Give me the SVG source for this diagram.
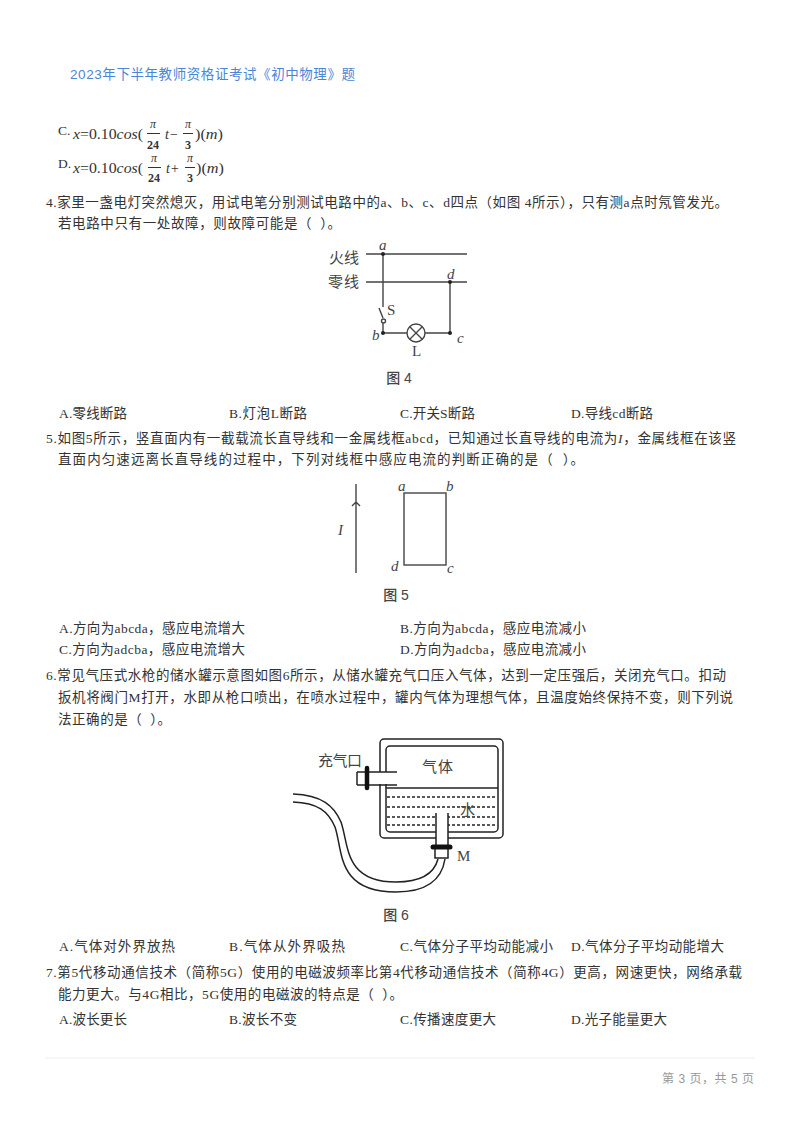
<svg xmlns="http://www.w3.org/2000/svg" width="800" height="1132" viewBox="0 0 800 1132">
<style>
text{font-family:"Liberation Serif","Noto Sans CJK SC",serif;font-size:13.5px;fill:#333}
.s{font-family:"Liberation Sans","Noto Sans CJK SC",sans-serif}
.i{font-style:italic}
.m{font-size:14px}
.f{font-size:12px;text-anchor:middle}
.b{font-weight:700}
.cap{font-family:"Liberation Sans","Noto Sans CJK SC",sans-serif;font-size:14px;font-weight:500;fill:#444;text-anchor:middle}
.lbl{font-size:15px;fill:#444}
.w{fill:none;stroke:#444;stroke-width:1.4}
.t{fill:none;stroke:#222;stroke-width:1.5}
.d{fill:none;stroke:#222;stroke-width:1.6;stroke-dasharray:3 2}
.dot{fill:#222}
</style>
<rect width="800" height="1132" fill="#fff"/>
<text id="title" class="s" x="70" y="79" textLength="285" style="fill:#4a86d8;font-size:13.5px">2023年下半年教师资格证考试《初中物理》题</text>

<g id="option-c">
<text x="58" y="135">C.</text>
<text class="m" x="73" y="139" textLength="70" lengthAdjust="spacingAndGlyphs"><tspan class="i">x</tspan>=0.10<tspan class="i">cos</tspan>(</text>
<text class="f i" x="153" y="128">π</text><path d="M147 133.500H160" stroke="#333"/><text class="f b" x="153" y="149">24</text>
<text class="m i" x="165" y="139">t−</text>
<text class="f i" x="188" y="128">π</text><path d="M183 133.500H193" stroke="#333"/><text class="f b" x="188" y="149">3</text>
<text class="m" x="195" y="139" textLength="28" lengthAdjust="spacingAndGlyphs">)(<tspan class="i">m</tspan>)</text>
</g>
<g id="option-d">
<text x="58" y="168">D.</text>
<text class="m" x="73" y="173" textLength="70" lengthAdjust="spacingAndGlyphs"><tspan class="i">x</tspan>=0.10<tspan class="i">cos</tspan>(</text>
<text class="f i" x="154" y="162">π</text><path d="M148 167.500H161" stroke="#333"/><text class="f b" x="154" y="182">24</text>
<text class="m i" x="166" y="173">t+</text>
<text class="f i" x="190" y="162">π</text><path d="M185 167.500H195" stroke="#333"/><text class="f b" x="190" y="182">3</text>
<text class="m" x="196" y="173" textLength="28" lengthAdjust="spacingAndGlyphs">)(<tspan class="i">m</tspan>)</text>
</g>

<g id="q4">
<text x="46" y="207" textLength="682">4.家里一盏电灯突然熄灭，用试电笔分别测试电路中的a、b、c、d四点（如图 4所示），只有测a点时氖管发光。</text>
<text x="58" y="228" textLength="283">若电路中只有一处故障，则故障可能是（&#160;&#160;）。</text>
</g>
<g id="fig4">
<g class="w">
<path d="M366 254H467M366 282H467"/>
<path d="M383 254V307M379 308L383 318"/>
<circle cx="383.500" cy="321" r="2" fill="#fff"/>
<path d="M383 323V333H407M425 333H450V282"/>
<circle cx="416" cy="333" r="9"/>
<path d="M410 327L422 339M422 327L410 339"/>
</g>
<circle class="dot" cx="383" cy="254" r="2"/><circle class="dot" cx="450" cy="282" r="2"/><circle class="dot" cx="383" cy="333" r="2"/><circle class="dot" cx="450" cy="333" r="2"/>
<text class="lbl" x="329" y="263" textLength="30">火线</text>
<text class="lbl" x="328" y="287" textLength="31">零线</text>
<text class="lbl i" x="379" y="250">a</text>
<text class="lbl i" x="447" y="279">d</text>
<text class="lbl" x="387" y="315">S</text>
<text class="lbl i" x="372" y="340">b</text>
<text class="lbl i" x="457" y="343">c</text>
<text class="lbl" x="412" y="356">L</text>
<text class="cap" x="399" y="383">图 4</text>
</g>
<g id="q4-options">
<text x="59" y="418" textLength="68">A.零线断路</text>
<text x="229" y="418" textLength="78">B.灯泡L断路</text>
<text x="400" y="418" textLength="75">C.开关S断路</text>
<text x="571" y="418" textLength="82">D.导线cd断路</text>
</g>

<g id="q5">
<text x="46" y="443" textLength="690">5.如图5所示，竖直面内有一截载流长直导线和一金属线框abcd，已知通过长直导线的电流为<tspan class="i">I</tspan>，金属线框在该竖</text>
<text x="58" y="464" textLength="526">直面内匀速远离长直导线的过程中，下列对线框中感应电流的判断正确的是（&#160;&#160;）。</text>
</g>
<g id="fig5">
<path class="w" d="M356 484V573M352 506Q356 502 356 502Q356 502 360 506"/>
<rect class="w" x="404" y="493" width="42" height="72"/>
<text class="lbl i" x="338" y="535">I</text>
<text class="lbl i" x="398" y="491">a</text>
<text class="lbl i" x="446" y="491">b</text>
<text class="lbl i" x="391" y="571">d</text>
<text class="lbl i" x="447" y="573">c</text>
<text class="cap" x="396" y="600">图 5</text>
</g>
<g id="q5-options">
<text x="59" y="633" textLength="186">A.方向为abcda，感应电流增大</text>
<text x="400" y="633" textLength="186">B.方向为abcda，感应电流减小</text>
<text x="59" y="654" textLength="186">C.方向为adcba，感应电流增大</text>
<text x="400" y="654" textLength="186">D.方向为adcba，感应电流减小</text>
</g>

<g id="q6">
<text x="46" y="680" textLength="680">6.常见气压式水枪的储水罐示意图如图6所示，从储水罐充气口压入气体，达到一定压强后，关闭充气口。扣动</text>
<text x="58" y="702" textLength="675">扳机将阀门M打开，水即从枪口喷出，在喷水过程中，罐内气体为理想气体，且温度始终保持不变，则下列说</text>
<text x="58" y="724" textLength="113">法正确的是（&#160;&#160;）。</text>
</g>
<g id="fig6">
<rect class="t" x="380" y="739" width="123" height="99" rx="4"/>
<rect class="t" x="386" y="746" width="112" height="86" rx="4"/>
<path class="t" d="M386 788H498"/>
<path class="d" d="M387 797H497M387 807H497M387 817H497M387 825H497"/>
<rect x="370" y="772" width="26" height="12" fill="#fff"/>
<path class="t" d="M357 772H397M357 785H397M357 772V785"/>
<path d="M367 768V788" stroke="#111" stroke-width="4.500" stroke-linecap="round"/>
<rect x="436" y="813" width="12" height="36" fill="#fff"/>
<path class="t" d="M436 813V847M448 813V847"/>
<path d="M433 847H450" stroke="#111" stroke-width="5" stroke-linecap="round"/>
<path class="t" d="M435 849V858H448V849"/>
<path class="t" d="M293 794C322 795 334 806 341 822C349 845 344 882 396 882C420 882 434 874 438 859"/>
<path class="t" d="M293 802C318 803 328 811 335 827C343 850 336 892 396 892C428 892 442 878 445 859"/>
<text class="lbl" x="318" y="766" textLength="44">充气口</text>
<text class="lbl" x="422" y="772" textLength="31">气体</text>
<text class="lbl" x="460" y="815">水</text>
<text class="lbl" x="457" y="861">M</text>
<text class="cap" x="396" y="920">图 6</text>
</g>
<g id="q6-options">
<text x="59" y="951" textLength="116">A.气体对外界放热</text>
<text x="229" y="951" textLength="116">B.气体从外界吸热</text>
<text x="400" y="951" textLength="153">C.气体分子平均动能减小</text>
<text x="571" y="951" textLength="153">D.气体分子平均动能增大</text>
</g>

<g id="q7">
<text x="46" y="977" textLength="696">7.第5代移动通信技术（简称5G）使用的电磁波频率比第4代移动通信技术（简称4G）更高，网速更快，网络承载</text>
<text x="58" y="999" textLength="345">能力更大。与4G相比，5G使用的电磁波的特点是（&#160;&#160;）。</text>
</g>
<g id="q7-options">
<text x="59" y="1024" textLength="68">A.波长更长</text>
<text x="229" y="1024" textLength="68">B.波长不变</text>
<text x="400" y="1024" textLength="96">C.传播速度更大</text>
<text x="571" y="1024" textLength="96">D.光子能量更大</text>
</g>

<g id="footer">
<path d="M45 1058H755" stroke="#eee"/>
<text class="s" x="662" y="1083" textLength="92" style="fill:#999;font-size:12px">第 3 页，共 5 页</text>
</g>
</svg>
